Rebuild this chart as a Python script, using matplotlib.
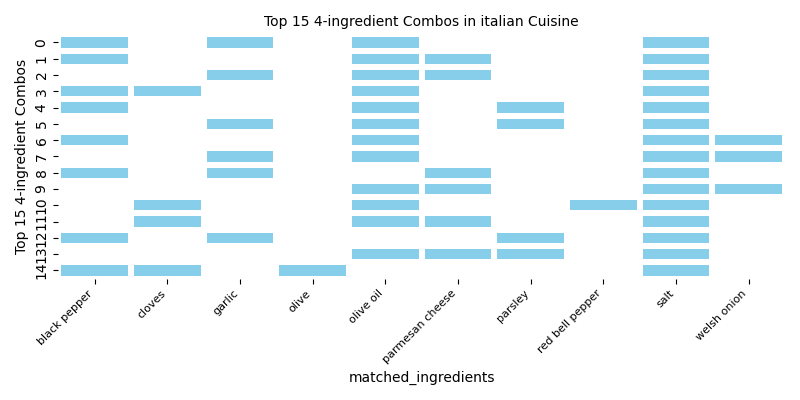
import matplotlib
matplotlib.use('Agg')
import matplotlib.pyplot as plt
import numpy as np
import pandas as pd
import seaborn as sns
from matplotlib.colors import ListedColormap

ingredients = ['black pepper', 'cloves', 'garlic', 'olive', 'olive oil',
               'parmesan cheese', 'parsley', 'red bell pepper', 'salt', 'welsh onion']

# each combo is a list of 4 ingredients
combos = [
    ['black pepper', 'garlic', 'olive oil', 'salt'],
    ['black pepper', 'olive oil', 'parmesan cheese', 'salt'],
    ['garlic', 'olive oil', 'parmesan cheese', 'salt'],
    ['black pepper', 'cloves', 'olive oil', 'salt'],
    ['black pepper', 'olive oil', 'parsley', 'salt'],
    ['garlic', 'olive oil', 'parsley', 'salt'],
    ['black pepper', 'olive oil', 'salt', 'welsh onion'],
    ['garlic', 'olive oil', 'salt', 'welsh onion'],
    ['black pepper', 'garlic', 'parmesan cheese', 'salt'],
    ['olive oil', 'parmesan cheese', 'salt', 'welsh onion'],
    ['cloves', 'olive oil', 'red bell pepper', 'salt'],
    ['cloves', 'olive oil', 'parmesan cheese', 'salt'],
    ['black pepper', 'garlic', 'parsley', 'salt'],
    ['olive oil', 'parmesan cheese', 'parsley', 'salt'],
    ['black pepper', 'cloves', 'olive', 'salt'],
]

rows = []
for i, combo in enumerate(combos):
    for ing in combo:
        rows.append({'combo': i, 'matched_ingredients': ing, 'val': 1})
df = pd.DataFrame(rows)
matrix = df.pivot_table(index='combo', columns='matched_ingredients',
                        values='val', fill_value=0)
matrix = matrix.reindex(columns=ingredients, fill_value=0)

fig, ax = plt.subplots(figsize=(8, 4), dpi=100)
sns.heatmap(matrix, cmap=ListedColormap(['white', 'skyblue']), cbar=False,
            linewidths=4, linecolor='white', ax=ax)
ax.set_title('Top 15 4-ingredient Combos in italian Cuisine', fontsize=10)
ax.set_ylabel('Top 15 4-ingredient Combos')
ax.set_xlabel('matched_ingredients')
plt.xticks(rotation=45, ha='right', fontsize=8)
plt.tight_layout()
plt.savefig('out.png')
